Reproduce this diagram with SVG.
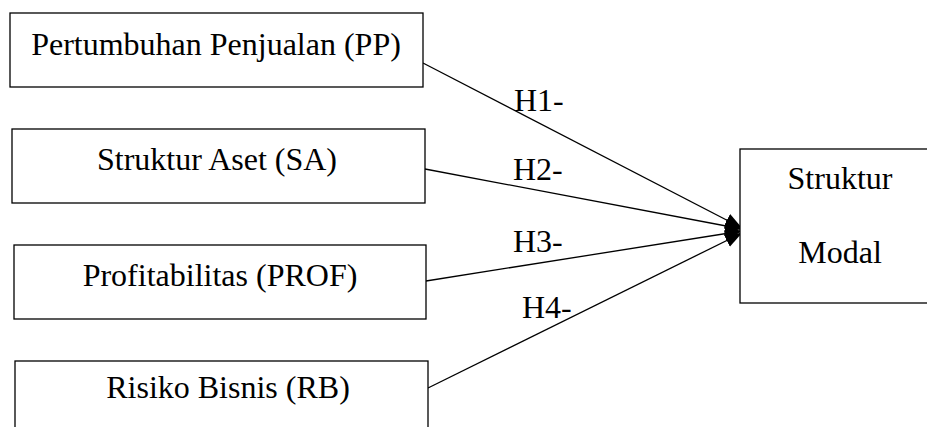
<svg xmlns="http://www.w3.org/2000/svg" width="927" height="427" viewBox="0 0 927 427">
<defs>
<marker id="arr" markerUnits="userSpaceOnUse" markerWidth="20" markerHeight="16" refX="17" refY="8" orient="auto">
<path d="M0,1 L17,8 L0,15 Z" fill="#000"/>
</marker>
<style>
.box{fill:#fff;stroke:#000;stroke-width:1.3}
.t{font-family:'Liberation Serif','Times New Roman',Times,serif;font-size:32px;fill:#000}
.c{text-anchor:middle}
.ln{stroke:#000;stroke-width:1.3;fill:none;marker-end:url(#arr)}
</style>
</defs>
<rect width="927" height="427" fill="#fff"/>
<g id="connectors">
<line class="ln" x1="423" y1="63" x2="742" y2="228"/>
<line class="ln" x1="425" y1="169" x2="742" y2="229"/>
<line class="ln" x1="426" y1="281" x2="742" y2="231"/>
<line class="ln" x1="428" y1="388" x2="742" y2="233"/>
<text class="t" x="514" y="111">H1-</text>
<text class="t" x="513" y="180">H2-</text>
<text class="t" x="513" y="252">H3-</text>
<text class="t" x="522" y="318">H4-</text>
</g>
<g id="pp">
<rect class="box" x="10" y="13" width="413" height="74"/>
<text class="t c" x="216" y="55">Pertumbuhan Penjualan (PP)</text>
</g>
<g id="sa">
<rect class="box" x="12" y="129" width="413" height="74"/>
<text class="t c" x="217" y="170">Struktur Aset (SA)</text>
</g>
<g id="prof">
<rect class="box" x="14" y="245" width="412" height="74"/>
<text class="t c" x="220" y="286">Profitabilitas (PROF)</text>
</g>
<g id="rb">
<rect class="box" x="15" y="361" width="413" height="80"/>
<text class="t c" x="228" y="398">Risiko Bisnis (RB)</text>
</g>
<g id="sm">
<rect class="box" x="740" y="149" width="200" height="154"/>
<text class="t c" x="840" y="189">Struktur</text>
<text class="t c" x="840" y="263">Modal</text>
</g>
</svg>
